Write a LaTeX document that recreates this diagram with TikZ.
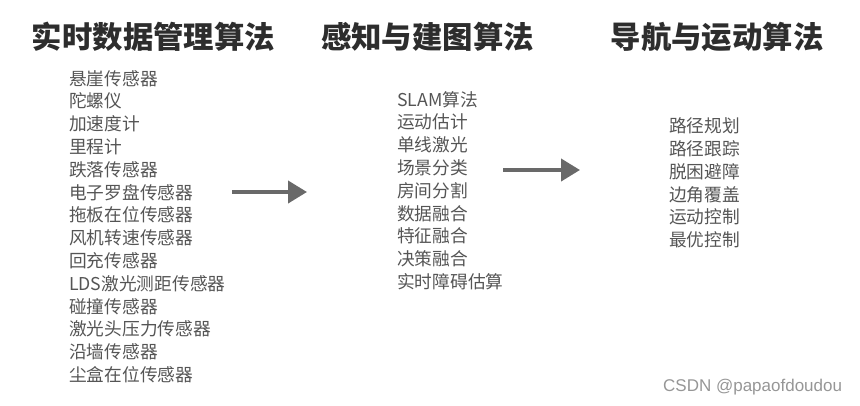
\documentclass[tikz,border=0pt]{standalone}
\usepackage{fontspec}
\usepackage{tikz}
\usetikzlibrary{
    positioning,
    arrows.meta
}
\setmainfont{Liberation Sans}
\newfontfamily\cjk{Noto Sans CJK SC}
\definecolor{TitleGray}{RGB}{45,45,45}
\definecolor{ItemGray}{RGB}{85,85,85}
\definecolor{ArrowGray}{RGB}{105,105,105}
\definecolor{MarkGray}{RGB}{150,150,150}

\begin{document}
\begin{tikzpicture}[
    x=1pt, y=-1pt,
    title/.style={inner sep=0pt, font=\cjk\bfseries\fontsize{30.4}{33}\selectfont, text=TitleGray},
    items/.style={anchor=west, inner sep=0pt, align=left, font=\cjk\fontsize{17.7}{22.8}\selectfont, text=ItemGray},
    flow/.style={line width=4pt, color=ArrowGray, -{Triangle[length=19pt, width=22pt]}},
]
\useasboundingbox (0,0) rectangle (860,405);

% column titles
\node[title] (tdata) at (153.5,37) {实时数据管理算法};
\node[title] (tmap) at (427.5,37) {感知与建图算法};
\node[title] (tnav) at (717,37) {导航与运动算法};

% lists
\node[items] (ldata) at (69,226.5) {%
  悬崖传感器\\
  陀螺仪\\
  加速度计\\
  里程计\\
  跌落传感器\\
  电子罗盘传感器\\
  拖板在位传感器\\
  风机转速传感器\\
  回充传感器\\
  LDS激光测距传感器\\
  碰撞传感器\\
  激光头压力传感器\\
  沿墙传感器\\
  尘盒在位传感器};

\node[items] (lmap) at (397,190.5) {%
  SLAM算法\\
  运动估计\\
  单线激光\\
  场景分类\\
  房间分割\\
  数据融合\\
  特征融合\\
  决策融合\\
  实时障碍估算};

\node[items] (lnav) at (669,183) {%
  路径规划\\
  路径跟踪\\
  脱困避障\\
  边角覆盖\\
  运动控制\\
  最优控制};

% arrows
\coordinate (a1s) at (232,192);
\coordinate (a1e) at (307,192);
\coordinate (a2s) at (503,170);
\coordinate (a2e) at (580,170);
\draw[flow] (a1s) -- (a1e);
\draw[flow] (a2s) -- (a2e);

\node[anchor=west, inner sep=0pt, font=\fontsize{17}{20}\selectfont, text=MarkGray] (mark) at (663,387) {CSDN @papaofdoudou};
\end{tikzpicture}
\end{document}
